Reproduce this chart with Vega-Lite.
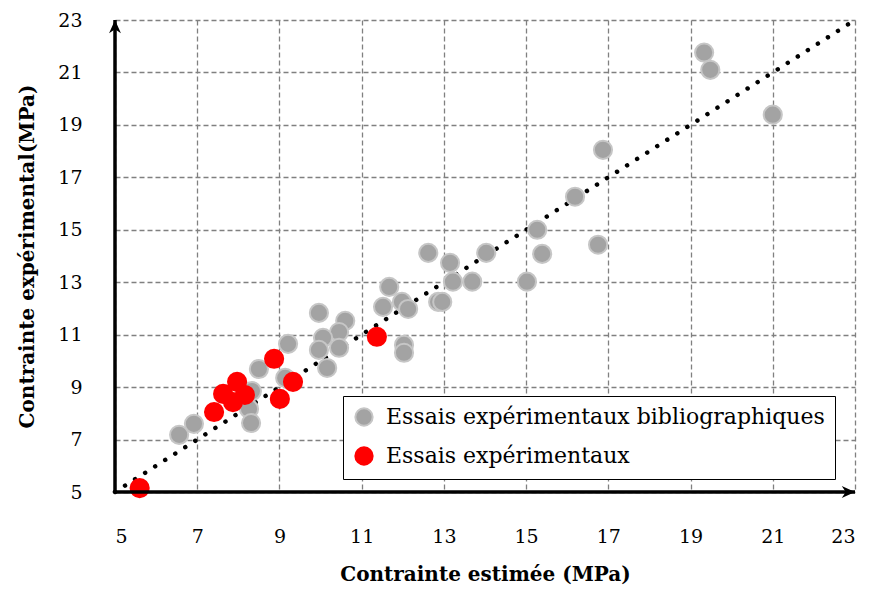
{
  "$schema": "https://vega.github.io/schema/vega-lite/v6.json",
  "autosize": "none",
  "width": 740,
  "height": 472,
  "padding": {"left": 115, "top": 20, "right": 14, "bottom": 102},
  "background": "white",
  "config": {
    "font": "DejaVu Serif",
    "view": {"stroke": null},
    "axis": {
      "grid": true,
      "gridColor": "#808080",
      "gridDash": [5, 3],
      "gridWidth": 1.3,
      "gridOpacity": 1,
      "domain": false,
      "ticks": false,
      "labelFont": "DejaVu Serif",
      "labelFontSize": 19,
      "labelColor": "black",
      "titleFont": "DejaVu Serif",
      "titleFontSize": 20,
      "titleFontWeight": "bold",
      "titleColor": "black"
    }
  },
  "datasets": {
    "pts": [
      {"x": 19.33, "y": 21.76, "type": "Essais expérimentaux bibliographiques"},
      {"x": 19.48, "y": 21.1, "type": "Essais expérimentaux bibliographiques"},
      {"x": 21.0, "y": 19.39, "type": "Essais expérimentaux bibliographiques"},
      {"x": 16.87, "y": 18.05, "type": "Essais expérimentaux bibliographiques"},
      {"x": 16.19, "y": 16.26, "type": "Essais expérimentaux bibliographiques"},
      {"x": 16.75, "y": 14.43, "type": "Essais expérimentaux bibliographiques"},
      {"x": 15.27, "y": 15.0, "type": "Essais expérimentaux bibliographiques"},
      {"x": 15.39, "y": 14.08, "type": "Essais expérimentaux bibliographiques"},
      {"x": 15.02, "y": 13.02, "type": "Essais expérimentaux bibliographiques"},
      {"x": 14.03, "y": 14.12, "type": "Essais expérimentaux bibliographiques"},
      {"x": 13.69, "y": 13.02, "type": "Essais expérimentaux bibliographiques"},
      {"x": 13.15, "y": 13.74, "type": "Essais expérimentaux bibliographiques"},
      {"x": 13.22, "y": 13.02, "type": "Essais expérimentaux bibliographiques"},
      {"x": 12.62, "y": 14.12, "type": "Essais expérimentaux bibliographiques"},
      {"x": 12.86, "y": 12.25, "type": "Essais expérimentaux bibliographiques"},
      {"x": 12.96, "y": 12.25, "type": "Essais expérimentaux bibliographiques"},
      {"x": 11.67, "y": 12.82, "type": "Essais expérimentaux bibliographiques"},
      {"x": 11.98, "y": 12.25, "type": "Essais expérimentaux bibliographiques"},
      {"x": 12.13, "y": 11.98, "type": "Essais expérimentaux bibliographiques"},
      {"x": 11.52, "y": 12.06, "type": "Essais expérimentaux bibliographiques"},
      {"x": 12.03, "y": 10.61, "type": "Essais expérimentaux bibliographiques"},
      {"x": 12.03, "y": 10.31, "type": "Essais expérimentaux bibliographiques"},
      {"x": 9.96, "y": 11.83, "type": "Essais expérimentaux bibliographiques"},
      {"x": 10.6, "y": 11.53, "type": "Essais expérimentaux bibliographiques"},
      {"x": 10.45, "y": 11.1, "type": "Essais expérimentaux bibliographiques"},
      {"x": 10.06, "y": 10.88, "type": "Essais expérimentaux bibliographiques"},
      {"x": 9.96, "y": 10.42, "type": "Essais expérimentaux bibliographiques"},
      {"x": 10.45, "y": 10.5, "type": "Essais expérimentaux bibliographiques"},
      {"x": 10.16, "y": 9.73, "type": "Essais expérimentaux bibliographiques"},
      {"x": 9.21, "y": 10.65, "type": "Essais expérimentaux bibliographiques"},
      {"x": 9.14, "y": 9.35, "type": "Essais expérimentaux bibliographiques"},
      {"x": 8.5, "y": 9.69, "type": "Essais expérimentaux bibliographiques"},
      {"x": 8.33, "y": 8.85, "type": "Essais expérimentaux bibliographiques"},
      {"x": 8.26, "y": 8.17, "type": "Essais expérimentaux bibliographiques"},
      {"x": 8.31, "y": 7.63, "type": "Essais expérimentaux bibliographiques"},
      {"x": 6.92, "y": 7.6, "type": "Essais expérimentaux bibliographiques"},
      {"x": 6.56, "y": 7.18, "type": "Essais expérimentaux bibliographiques"},
      {"x": 5.6, "y": 5.15, "type": "Essais expérimentaux"},
      {"x": 7.41, "y": 8.05, "type": "Essais expérimentaux"},
      {"x": 7.63, "y": 8.74, "type": "Essais expérimentaux"},
      {"x": 7.87, "y": 8.43, "type": "Essais expérimentaux"},
      {"x": 7.97, "y": 9.2, "type": "Essais expérimentaux"},
      {"x": 8.16, "y": 8.7, "type": "Essais expérimentaux"},
      {"x": 8.87, "y": 10.08, "type": "Essais expérimentaux"},
      {"x": 9.01, "y": 8.55, "type": "Essais expérimentaux"},
      {"x": 9.33, "y": 9.2, "type": "Essais expérimentaux"},
      {"x": 11.37, "y": 10.92, "type": "Essais expérimentaux"}
    ],
    "axes": [
      {"x": 5, "y": 5, "x2": 23, "y2": 5},
      {"x": 5, "y": 5, "x2": 5, "y2": 23}
    ],
    "diag": [{"x": 5, "y": 5, "x2": 23, "y2": 23}],
    "arrowR": [{"x": 23, "y": 5}],
    "arrowU": [{"x": 5, "y": 23}]
  },
  "layer": [
    {
      "data": {"name": "diag"},
      "mark": {"type": "rule", "color": "black", "strokeWidth": 4.5, "strokeCap": "round", "strokeDash": [0.01, 11.9]},
      "encoding": {
        "x": {"field": "x", "type": "quantitative", "scale": {"domain": [5, 23], "nice": false, "zero": false}, "axis": {"values": [5, 7, 9, 11, 13, 15, 17, 19, 21, 23], "labelPadding": 35, "title": "Contrainte estimée (MPa)", "titlePadding": 18}},
        "y": {"field": "y", "type": "quantitative", "scale": {"domain": [5, 23], "nice": false, "zero": false}, "axis": {"values": [5, 7, 9, 11, 13, 15, 17, 19, 21, 23], "labelPadding": 33, "title": "Contrainte expérimental(MPa)", "titlePadding": 20}},
        "x2": {"field": "x2"},
        "y2": {"field": "y2"}
      }
    },
    {
      "data": {"name": "pts"},
      "mark": {"type": "point", "filled": true, "opacity": 1, "size": 330, "strokeWidth": 2, "clip": false},
      "encoding": {
        "x": {"field": "x", "type": "quantitative"},
        "y": {"field": "y", "type": "quantitative"},
        "fill": {"field": "type", "type": "nominal", "sort": null,
          "scale": {"domain": ["Essais expérimentaux bibliographiques", "Essais expérimentaux"], "range": ["#a3a3a3", "#ff0000"]},
          "legend": {"title": null, "orient": "none", "legendX": 228, "legendY": 376, "padding": 10, "fillColor": "white", "strokeColor": "black", "labelFont": "DejaVu Serif", "labelFontSize": 22, "labelColor": "black", "symbolSize": 300, "symbolStrokeWidth": 2, "rowPadding": 13, "labelOffset": 11, "labelLimit": 600, "symbolOpacity": 1}},
        "stroke": {"field": "type", "type": "nominal",
          "scale": {"domain": ["Essais expérimentaux bibliographiques", "Essais expérimentaux"], "range": ["#c6c6c6", "#ff0000"]}}
      }
    },
    {
      "data": {"name": "axes"},
      "mark": {"type": "rule", "color": "black", "strokeWidth": 3.5},
      "encoding": {
        "x": {"field": "x", "type": "quantitative"},
        "y": {"field": "y", "type": "quantitative"},
        "x2": {"field": "x2"},
        "y2": {"field": "y2"}
      }
    },
    {
      "data": {"name": "arrowR"},
      "mark": {"type": "point", "filled": true, "color": "black", "opacity": 1, "size": 700, "shape": "M0,0 L-1,-0.45 L-0.7,0 L-1,0.45 Z", "clip": false},
      "encoding": {
        "x": {"field": "x", "type": "quantitative"},
        "y": {"field": "y", "type": "quantitative"}
      }
    },
    {
      "data": {"name": "arrowU"},
      "mark": {"type": "point", "filled": true, "color": "black", "opacity": 1, "size": 700, "shape": "M0,0 L-0.45,1 L0,0.7 L0.45,1 Z", "clip": false},
      "encoding": {
        "x": {"field": "x", "type": "quantitative"},
        "y": {"field": "y", "type": "quantitative"}
      }
    }
  ]
}
